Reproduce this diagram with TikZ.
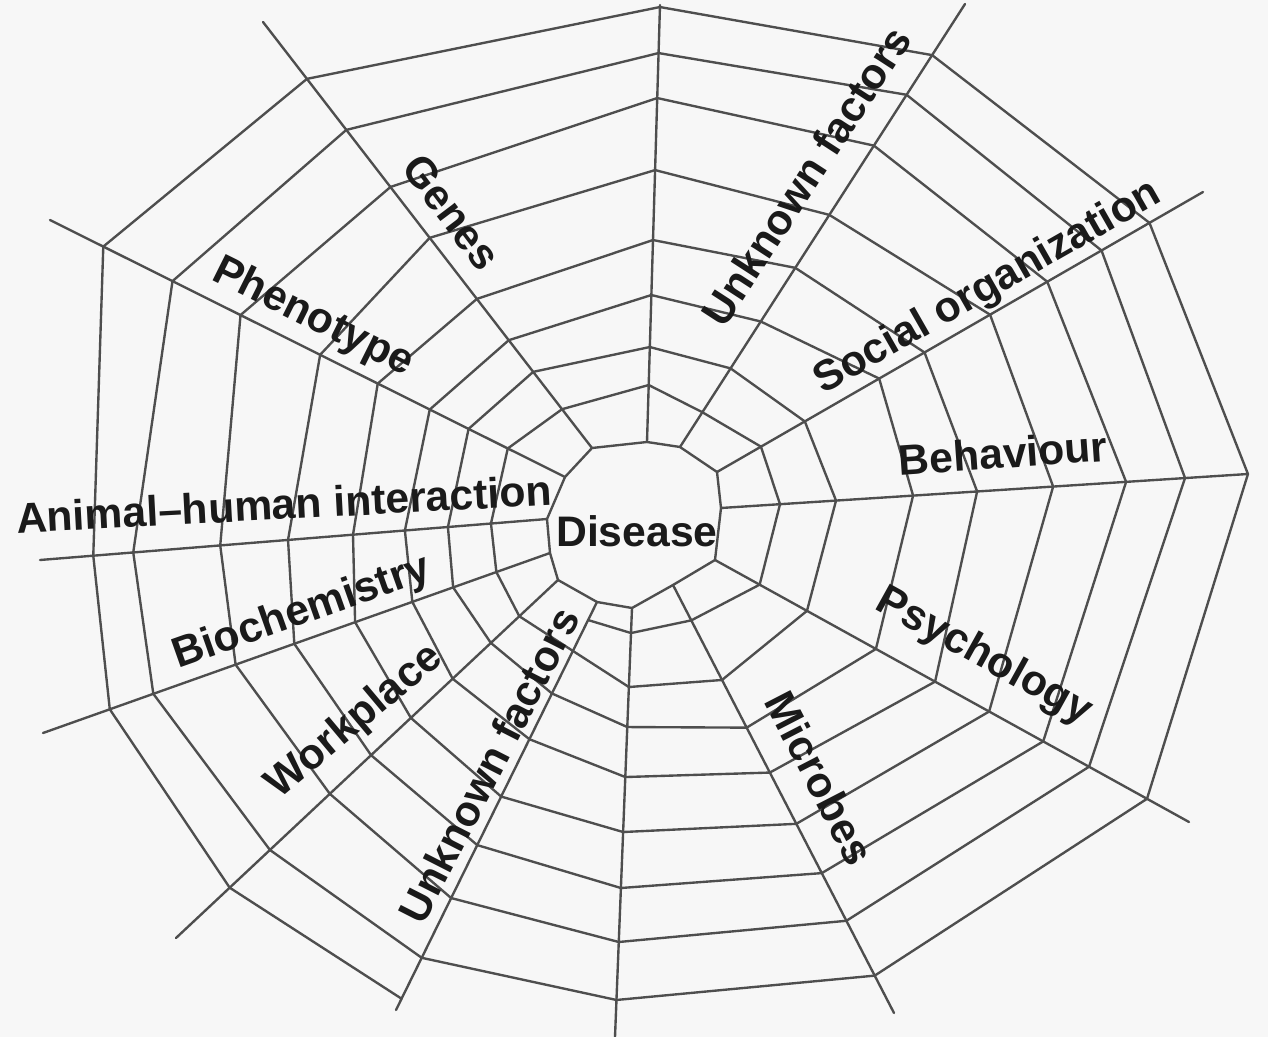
\documentclass[tikz,border=0pt]{standalone}
\usepackage{fontspec}
\setmainfont{Liberation Sans}
\usetikzlibrary{calc}
\definecolor{webline}{RGB}{78,78,78}
\definecolor{labelink}{RGB}{26,26,26}
\definecolor{paper}{RGB}{247,247,247}

\begin{document}
\begin{tikzpicture}[x=0.02cm,y=-0.02cm,
  web/.style={draw=webline,line width=1.35pt,line cap=round,line join=round},
  lbl/.style={font=\fontsize{24.3}{29}\selectfont\bfseries,text=labelink,inner sep=0pt}]
\fill[paper] (0,0) rectangle (1268,1037);
\useasboundingbox (0,0) rectangle (1268,1037);

% spokes: hub vertex and outer end
\foreach \s/\hx/\hy/\ex/\ey in {U/647/442/660/5, UF/680/447/965/4, SO/717/472/1203/192,
    B/721/508/1248/474, P/715/560/1189/822, M/673/585/894/1013, D/632/608/615/1037,
    UFb/597/602/396/1010, W/558/580/176/938, Bio/550/553/43/733, AH/547/519/40/560,
    Ph/565/477/50/220, G/592/448/263/22}{
  \coordinate (\s-hub) at (\hx,\hy);
  \coordinate (\s-end) at (\ex,\ey);
}

% ring crossings, projected onto their spokes (1 = outermost)
\foreach \s/\k/\x/\y in {
    U/1/660/7, U/2/657/53, U/3/657/98, U/4/653/170, U/5/652/240, U/6/651/295, U/7/649/347, U/8/648/385,
    UF/1/932/55, UF/2/907/95, UF/3/873/145, UF/4/828/214, UF/5/794/267, UF/6/760/321, UF/7/730/368, UF/8/702/412,
    SO/1/1149/222, SO/2/1103/253, SO/3/1048/283, SO/4/992/318, SO/5/926/355, SO/6/880/380, SO/7/804/420, SO/8/760/445,
    B/1/1248/474, B/2/1185/477, B/3/1126/480, B/4/1053/484, B/5/977/489, B/6/913/494, B/7/836/500, B/8/780/504,
    P/1/1148/797, P/2/1090/765, P/3/1044/740, P/4/990/710, P/5/936/680, P/6/877/647, P/7/808/609, P/8/760/584,
    M/1/876/975, M/2/848/920, M/3/824/872, M/4/798/823, M/5/771/772, M/6/746/728, M/7/722/680, M/8/692/620,
    D/1/616/1000, D/2/618/942, D/3/620/888, D/4/622/832, D/5/624/777, D/6/626/727, D/7/628/687, D/8/630/633,
    UFb/0/398/997, UFb/1/420/957, UFb/2/451/898, UFb/3/477/845, UFb/4/502/797, UFb/5/531/740, UFb/6/551/693, UFb/7/571/650, UFb/8/588/620,
    W/1/229/887, W/2/269/849, W/3/329/793, W/4/369/753, W/5/410/717, W/6/451/677, W/7/490/642, W/8/520/617,
    Bio/1/110/710, Bio/2/153/693, Bio/3/235/663, Bio/4/294/643, Bio/5/355/622, Bio/6/412/601, Bio/7/453/587, Bio/8/496/571,
    AH/1/93/553, AH/2/133/550, AH/3/220/543, AH/4/288/540, AH/5/353/535, AH/6/405/532, AH/7/448/528, AH/8/491/524,
    Ph/1/104/245, Ph/2/173/280, Ph/3/241/314, Ph/4/320/355, Ph/5/378/383, Ph/6/430/409, Ph/7/469/428, Ph/8/508/448,
    G/1/308/78, G/2/350/127, G/3/393/185, G/4/432/236, G/5/478/298, G/6/509/340, G/7/533/372, G/8/561/410}{
  \coordinate (\s-\k) at ($(\s-hub)!(\x,\y)!(\s-end)$);
}

% spiral threads between neighbouring spokes
\foreach \a/\b in {G/U, U/UF, UF/SO, SO/B, B/P, P/M, M/D, D/UFb, W/Bio, Bio/AH, AH/Ph, Ph/G}{
  \foreach \k in {1,...,8}{
    \draw[web] (\a-\k) -- (\b-\k);
  }
}
\draw[web] (W-1) -- (UFb-0);
\foreach \k [evaluate=\k as \j using int(\k-1)] in {2,...,8}{
  \draw[web] (W-\k) -- (UFb-\j);
}

% radial threads
\foreach \s in {U, UF, SO, B, P, M, D, UFb, W, Bio, AH, Ph, G}{
  \draw[web] (\s-hub) -- (\s-end);
}

% central hub
\draw[web] (G-hub) -- (U-hub) -- (UF-hub) -- (SO-hub) -- (B-hub) -- (P-hub) -- (M-hub)
  -- (D-hub) -- (UFb-hub) -- (W-hub) -- (Bio-hub) -- (AH-hub) -- (Ph-hub) -- cycle;

% labels
\node[lbl] (disease) at (637,531) {Disease};
\node[lbl,rotate=-53] (genes) at (452,212) {Genes};
\node[lbl,rotate=-26.5] (phenotype) at (313,318) {Phenotype};
\node[lbl,rotate=3] (animal) at (284,504) {Animal--human interaction};
\node[lbl,rotate=19.5] (biochem) at (302,613) {Biochemistry};
\node[lbl,rotate=40] (workplace) at (355,722) {Workplace};
\node[lbl,rotate=63] (unknownlow) at (489,765) {Unknown factors};
\node[lbl,rotate=-62.7] (microbes) at (820,778) {Microbes};
\node[lbl,rotate=-29] (psychology) at (984,657) {Psychology};
\node[lbl,rotate=4] (behaviour) at (1003,453) {Behaviour};
\node[lbl,rotate=29.7] (social) at (988,288) {Social organization};
\node[lbl,rotate=57] (unknowntop) at (806,176) {Unknown factors};
\end{tikzpicture}
\end{document}
